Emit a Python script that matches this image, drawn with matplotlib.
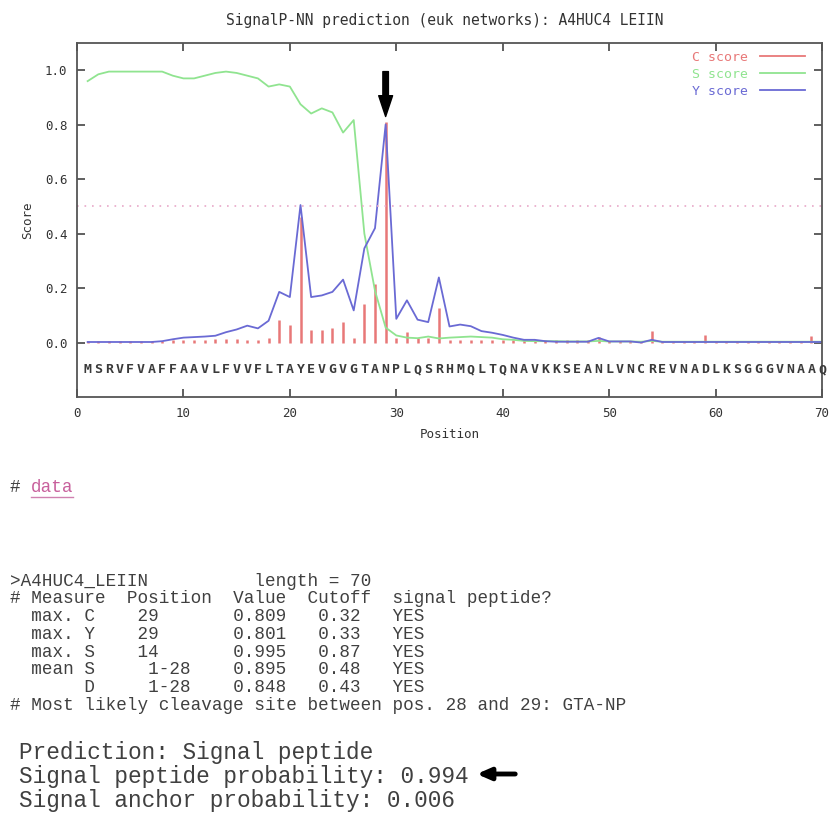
import matplotlib
matplotlib.use("Agg")
import matplotlib.pyplot as plt
from matplotlib.lines import Line2D
from matplotlib.patches import FancyArrowPatch

W, H = 834, 814

# SignalP-NN scores per residue
positions = list(range(1, 71))
sequence = "MSRVFVAFFAAVLFVVFLTAYEVGVGTANPLQSRHMQLTQNAVKKSEANLVNCREVNADLKSGGGVNAAQ"

c_score = [0.005, 0.005, 0.005, 0.005, 0.005, 0.005, 0.005, 0.005, 0.01, 0.01,
           0.01, 0.01, 0.012, 0.012, 0.012, 0.01, 0.01, 0.015, 0.084, 0.063,
           0.46, 0.047, 0.047, 0.053, 0.074, 0.017, 0.143, 0.214, 0.809, 0.015,
           0.037, 0.018, 0.018, 0.126, 0.008, 0.008, 0.008, 0.008, 0.008, 0.008,
           0.008, 0.008, 0.008, 0.008, 0.008, 0.008, 0.008, 0.008, 0.02, 0.006,
           0.006, 0.006, 0.006, 0.042, 0.006, 0.006, 0.006, 0.006, 0.028, 0.006,
           0.006, 0.006, 0.006, 0.006, 0.006, 0.006, 0.006, 0.006, 0.025, 0.006]

s_score = [0.96, 0.985, 0.995, 0.995, 0.995, 0.995, 0.995, 0.995, 0.98, 0.97,
           0.97, 0.98, 0.99, 0.995, 0.99, 0.98, 0.97, 0.94, 0.948, 0.94,
           0.875, 0.841, 0.86, 0.845, 0.771, 0.817, 0.40, 0.19, 0.055, 0.026,
           0.018, 0.016, 0.022, 0.015, 0.018, 0.02, 0.022, 0.02, 0.018, 0.012,
           0.01, 0.006, 0.005, 0.005, 0.005, 0.004, 0.004, 0.004, 0.006, 0.004,
           0.004, 0.004, 0.003, 0.006, 0.003, 0.003, 0.003, 0.003, 0.003, 0.003,
           0.003, 0.003, 0.003, 0.003, 0.003, 0.003, 0.003, 0.003, 0.003, 0.003]

y_score = [0.002, 0.002, 0.002, 0.002, 0.002, 0.002, 0.002, 0.005, 0.012, 0.018,
           0.02, 0.022, 0.025, 0.038, 0.048, 0.062, 0.052, 0.08, 0.186, 0.167,
           0.505, 0.167, 0.173, 0.186, 0.231, 0.118, 0.346, 0.42, 0.801, 0.087,
           0.155, 0.084, 0.075, 0.239, 0.059, 0.066, 0.06, 0.042, 0.036, 0.028,
           0.018, 0.01, 0.01, 0.005, 0.003, 0.003, 0.003, 0.003, 0.017, 0.004,
           0.004, 0.004, 0.0, 0.01, 0.002, 0.002, 0.002, 0.002, 0.002, 0.002,
           0.002, 0.002, 0.002, 0.002, 0.002, 0.002, 0.002, 0.002, 0.002, 0.002]

cutoff = 0.5
cleavage_pos = 29

x_ticks = [0, 10, 20, 30, 40, 50, 60, 70]
y_ticks = [0.0, 0.2, 0.4, 0.6, 0.8, 1.0]

title = "SignalP-NN prediction (euk networks): A4HUC4 LEIIN"

table_lines = [
    ">A4HUC4_LEIIN          length = 70",
    "# Measure  Position  Value  Cutoff  signal peptide?",
    "  max. C    29       0.809   0.32   YES",
    "  max. Y    29       0.801   0.33   YES",
    "  max. S    14       0.995   0.87   YES",
    "  mean S     1-28    0.895   0.48   YES",
    "       D     1-28    0.848   0.43   YES",
    "# Most likely cleavage site between pos. 28 and 29: GTA-NP",
]
summary_lines = [
    "Prediction: Signal peptide",
    "Signal peptide probability: 0.994",
    "Signal anchor probability: 0.006",
]

RED = "#e87878"
GREEN = "#90e490"
BLUE = "#6a6ad4"
PINK = "#e8a8c8"
INK = "#333333"
TXT = "#404040"
GNU_FONT = "DejaVu Sans Mono"
HTML_FONT = "Liberation Mono"


def fx(px):
    return px / W


def fy(py):
    return 1 - py / H


fig = plt.figure(figsize=(W / 100, H / 100), dpi=100)
fig.patch.set_facecolor("white")

ax = fig.add_axes([fx(77), fy(397), fx(822) - fx(77), fy(43) - fy(397)])

# scores
ax.vlines(positions, 0, c_score, color=RED, lw=1.8)
ax.plot(positions, s_score, color=GREEN, lw=1.3)
ax.plot(positions, y_score, color=BLUE, lw=1.3)
ax.axhline(cutoff, color=PINK, lw=1.2, ls=(0, (1, 3.5)))

# residue letters under the curves
for p, aa in zip(positions, sequence):
    ax.text(p, -0.1, aa, ha="center", va="center", family=GNU_FONT,
            fontsize=9.5, fontweight="bold", color="#3a3a3a")

# cleavage-site arrow
ax.annotate("", xy=(cleavage_pos, 0.83), xytext=(cleavage_pos, 0.995),
            arrowprops=dict(facecolor="black", edgecolor="black",
                            width=4, headwidth=10, headlength=15))

ax.set_xlim(0, 70)
ax.set_ylim(-0.2, 1.1)
ax.set_xticks(x_ticks)
ax.set_yticks(y_ticks)
ax.set_yticklabels([f"{v:.1f}" for v in y_ticks])
ax.tick_params(direction="in", top=True, right=True, length=6, width=1.2,
               color="#444444", labelcolor=INK, labelsize=9)
ax.tick_params(axis="x", pad=7)
ax.tick_params(axis="y", pad=7)
for lab in ax.get_xticklabels() + ax.get_yticklabels():
    lab.set_family(GNU_FONT)
for sp in ax.spines.values():
    sp.set_color("#555555")
    sp.set_linewidth(1.3)

ax.set_xlabel("Position", family=GNU_FONT, fontsize=9, color=INK, labelpad=6)
ax.set_ylabel("Score", family=GNU_FONT, fontsize=9, color=INK, labelpad=8)

handles = [Line2D([], [], color=RED, lw=1.3),
           Line2D([], [], color=GREEN, lw=1.3),
           Line2D([], [], color=BLUE, lw=1.3)]
ax.legend(handles, ["C score", "S score", "Y score"],
          loc="upper right", bbox_to_anchor=(1 - 17 / 745, 1 - 8 / 354),
          frameon=False, markerfirst=False, handlelength=3.4,
          handletextpad=0.9, labelspacing=0.3, borderpad=0,
          borderaxespad=0, labelcolor=[RED, GREEN, BLUE],
          prop={"family": GNU_FONT, "size": 9.5})

fig.text(fx(445), fy(20), title, ha="center", va="center",
         family=GNU_FONT, fontsize=10.5, color=INK)

# HTML-style text below the graph
fig.text(fx(10), fy(488), "#", ha="left", va="center", family=HTML_FONT,
         fontsize=12.7, color=TXT)
fig.text(fx(31), fy(488), "data", ha="left", va="center", family=HTML_FONT,
         fontsize=12.7, color="#c8609c")
fig.add_artist(Line2D([fx(31), fx(73)], [fy(497), fy(497)], color="#d080b0", lw=1))

row_y0, row_step = 581, 17.8
for i, line in enumerate(table_lines):
    fig.text(fx(10), fy(row_y0 + i * row_step), line, ha="left", va="center",
             family=HTML_FONT, fontsize=12.7, color=TXT)

sum_y0, sum_step = 752, 24
for i, line in enumerate(summary_lines):
    fig.text(fx(19), fy(sum_y0 + i * sum_step), line, ha="left", va="center",
             family=HTML_FONT, fontsize=16.4, color=TXT)

fig.add_artist(FancyArrowPatch(
    (fx(518), fy(774)), (fx(474), fy(774)), transform=fig.transFigure,
    arrowstyle="-|>,head_length=8,head_width=3.5", lw=3.5, color="black",
    mutation_scale=1))

fig.savefig("out.png", dpi=100, facecolor="white")
